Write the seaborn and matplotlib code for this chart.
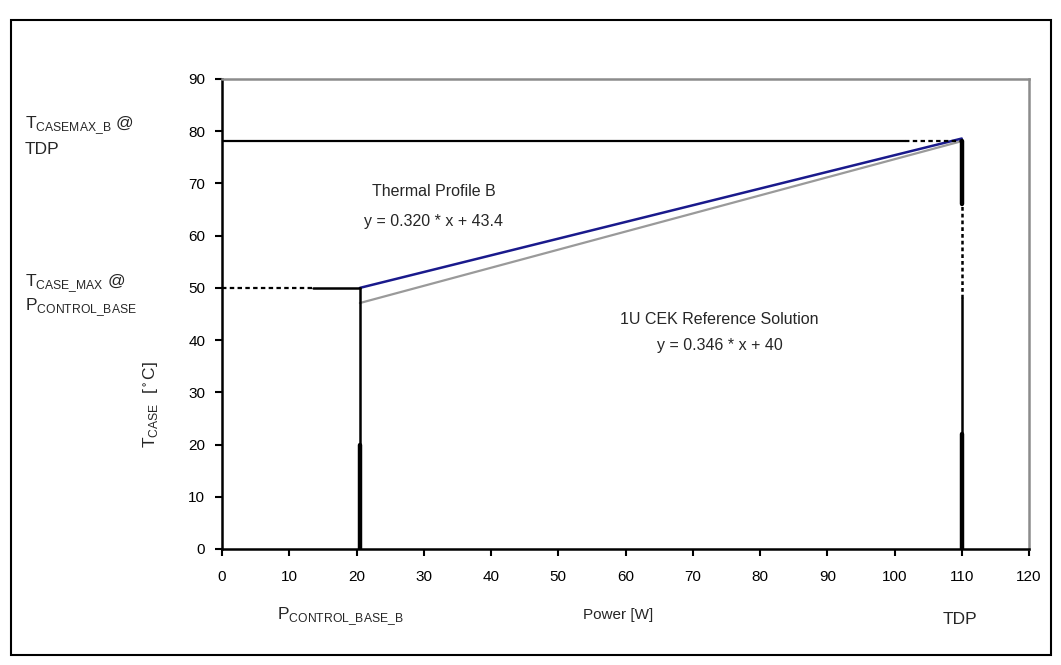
import matplotlib
matplotlib.use("Agg")
import matplotlib.pyplot as plt
import seaborn as sns
import pandas as pd
from matplotlib.patches import Rectangle

# Thermal profile data
p_control_base = 20.5      # W
tdp = 110.0                # W
t_case_max_base = 50.0     # degC at P_CONTROL_BASE
t_case_max_tdp = 78.2      # degC at TDP

profile_b_power = [20.5, 110.0]
profile_b_temp = [50.0, 78.6]       # y = 0.320 * x + 43.4

ref_solution_power = [20.5, 110.0]
ref_solution_temp = [47.1, 78.1]    # y = 0.346 * x + 40

x_ticks = list(range(0, 121, 10))
y_ticks = list(range(0, 91, 10))

sns.set_style("white")
plt.rcParams["font.family"] = ["Liberation Sans", "DejaVu Sans"]

W, H = 1061, 665
fig = plt.figure(figsize=(W / 100, H / 100), dpi=100)
ax = fig.add_axes([222 / W, 1 - 549 / H, (1029 - 222) / W, (549 - 79) / H])

df_b = pd.DataFrame({"Power": profile_b_power, "Tcase": profile_b_temp})
df_r = pd.DataFrame({"Power": ref_solution_power, "Tcase": ref_solution_temp})
sns.lineplot(data=df_r, x="Power", y="Tcase", ax=ax, color="#9a9a9a", lw=1.6)
sns.lineplot(data=df_b, x="Power", y="Tcase", ax=ax, color="#1a1a8c", lw=1.8)

k = "black"
# horizontal limit at TDP
ax.plot([0, 101.5], [t_case_max_tdp] * 2, color=k, lw=1.6)
ax.plot([101.5, tdp], [t_case_max_tdp] * 2, color=k, lw=1.6, ls=(0, (2, 1.5)))
# horizontal limit at P_CONTROL_BASE
ax.plot([0, 13.5], [t_case_max_base] * 2, color=k, lw=1.6, ls=(0, (2, 1.5)))
ax.plot([13.5, p_control_base], [t_case_max_base] * 2, color=k, lw=1.8)
# vertical at P_CONTROL_BASE
ax.plot([p_control_base] * 2, [0, 20], color=k, lw=3.2)
ax.plot([p_control_base] * 2, [20, t_case_max_base], color=k, lw=1.8)
# vertical at TDP
ax.plot([tdp] * 2, [0, 22], color=k, lw=3.2)
ax.plot([tdp] * 2, [22, 48], color=k, lw=1.8)
ax.plot([tdp] * 2, [48, 66], color=k, lw=1.8, ls=(0, (1.5, 1.2)))
ax.plot([tdp] * 2, [66, t_case_max_tdp], color=k, lw=3.2)

ax.set_xlim(0, 120)
ax.set_ylim(0, 90)
ax.set_xticks(x_ticks)
ax.set_yticks(y_ticks)
ax.set_xticklabels([str(v) for v in x_ticks], fontsize=11)
ax.set_yticklabels([str(v) for v in y_ticks], fontsize=11)
ax.tick_params(axis="both", which="major", direction="out", length=5, width=1.5,
               colors=k, bottom=True, left=True, top=False, right=False)
ax.tick_params(axis="y", pad=7)
ax.tick_params(axis="x", pad=10)
ax.set_xlabel("")
ax.set_ylabel("")
for side in ("left", "bottom"):
    ax.spines[side].set_color(k)
    ax.spines[side].set_linewidth(1.8)
for side in ("top", "right"):
    ax.spines[side].set_color("#8c8c8c")
    ax.spines[side].set_linewidth(1.8)

# annotations inside the plot
ax.text(31.5, 68.5, "Thermal Profile B", ha="center", va="center", fontsize=11.5)
ax.text(31.5, 62.7, "y = 0.320 * x + 43.4", ha="center", va="center", fontsize=11.5)
ax.text(74, 44.0, "1U CEK Reference Solution", ha="center", va="center", fontsize=11.5)
ax.text(74, 39.0, "y = 0.346 * x + 40", ha="center", va="center", fontsize=11.5)


def ftext(x, y, s, **kw):
    fig.text(x / W, 1 - y / H, s, **kw)


sub = r"$_{\mathregular{%s}}$"
ftext(25, 126, "T" + sub % r"CASEMAX\_B" + " @", fontsize=12.5, va="center")
ftext(25, 150, "TDP", fontsize=12.5, va="center")
ftext(25, 284, "T" + sub % r"CASE\_MAX" + " @", fontsize=12.5, va="center")
ftext(25, 308, "P" + sub % r"CONTROL\_BASE", fontsize=12.5, va="center")
ftext(150, 405, "T" + sub % "CASE" + r"  [$\mathregular{^\circ}$C]", fontsize=12.5,
      rotation=90, ha="center", va="center")
ftext(340, 617, "P" + sub % r"CONTROL\_BASE\_B", fontsize=12.5, ha="center", va="center")
ftext(618, 615, "Power [W]", fontsize=11, ha="center", va="center")
ftext(960, 620, "TDP", fontsize=12.5, ha="center", va="center")

# outer frame
fig.patches.append(Rectangle((11 / W, 1 - 655 / H), (1051 - 11) / W, (655 - 20) / H,
                             transform=fig.transFigure, fill=False, edgecolor=k, lw=1.5))

fig.savefig("out.png", dpi=100)
